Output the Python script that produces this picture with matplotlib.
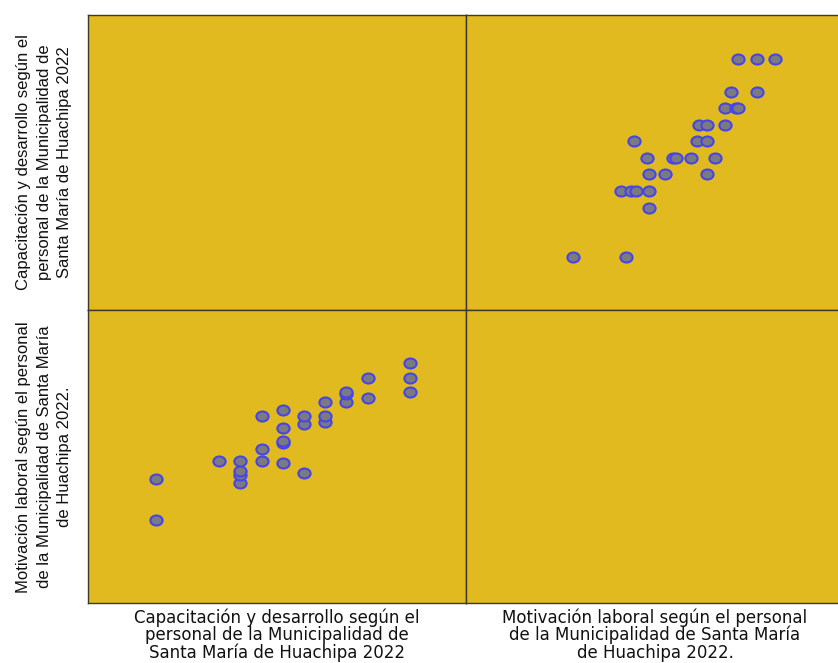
import matplotlib
matplotlib.use("Agg")
import matplotlib.pyplot as plt
from matplotlib.path import Path
from matplotlib.transforms import Affine2D

# one point per respondent: (capacitación, motivación) scores
capacitacion = [32, 32, 32, 30, 30, 29, 29, 29, 28, 28, 28, 27, 27, 27,
                26, 26, 26, 26, 26, 25, 25, 25, 24, 24, 24, 24, 23, 20, 20]
motivacion = [123, 130, 137, 120, 130, 118, 122, 123, 108, 111, 118, 83, 107, 111,
              88, 98, 99, 105, 114, 89, 95, 111, 78, 82, 84, 89, 89, 60, 80]

label_cap = "Capacitación y desarrollo según el\npersonal de la Municipalidad de\nSanta María de Huachipa 2022"
label_mot = "Motivación laboral según el personal\nde la Municipalidad de Santa María\nde Huachipa 2022."

cap_lim = (16.8, 34.65)
mot_lim = (19.0, 163.3)

BG = "#e1ba1f"
FRAME = "#3f3828"

W, H = 838, 663
fig = plt.figure(figsize=(W / 100, H / 100), dpi=100)

# slightly wide ellipse marker
ellipse = Path.unit_circle().transformed(Affine2D().scale(1.22, 1.0))
mstyle = dict(linestyle="none", marker=ellipse, markersize=8.8,
              markerfacecolor="#7a7a80", markeredgecolor="#4545ea",
              markeredgewidth=1.5)


def px_axes(x0, y0, x1, y1):
    return fig.add_axes([x0 / W, 1 - y1 / H, (x1 - x0) / W, (y1 - y0) / H])


xs = [88, 466, 844]
ys = [15, 310, 603]
axes = {}
for r in range(2):
    for c in range(2):
        ax = px_axes(xs[c], ys[r], xs[c + 1], ys[r + 1])
        ax.set_facecolor(BG)
        ax.set_xticks([])
        ax.set_yticks([])
        for sp in ax.spines.values():
            sp.set_color(FRAME)
            sp.set_linewidth(1.0)
        axes[r, c] = ax

lims = [cap_lim, mot_lim]
for (r, c), ax in axes.items():
    ax.set_xlim(lims[c])
    ax.set_ylim(lims[r])

# off-diagonal panels
axes[0, 1].plot(motivacion, capacitacion, **mstyle)
axes[1, 0].plot(capacitacion, motivacion, **mstyle)

# variable names around the matrix
fig.text(277 / W, 1 - 635 / H, label_cap, ha="center", va="center",
         fontsize=12, family="DejaVu Sans", linespacing=0.95, color="#111111")
fig.text(655 / W, 1 - 635 / H, label_mot, ha="center", va="center",
         fontsize=12, family="DejaVu Sans", linespacing=0.95, color="#111111")
fig.text(44 / W, 1 - 162 / H, label_cap, ha="center", va="center", rotation=90,
         fontsize=12, family="Liberation Sans", linespacing=1.45, color="#111111")
fig.text(44 / W, 1 - 457 / H, label_mot, ha="center", va="center", rotation=90,
         fontsize=12, family="Liberation Sans", linespacing=1.45, color="#111111")

fig.savefig("out.png", dpi=100, facecolor="white")
